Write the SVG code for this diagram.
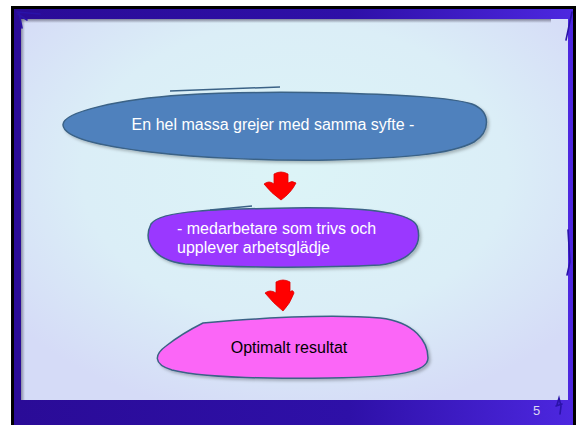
<svg xmlns="http://www.w3.org/2000/svg" width="579" height="425" viewBox="0 0 579 425">
  <defs>
    <radialGradient id="panel" cx="0.5" cy="0.4" r="0.65">
      <stop offset="0" stop-color="#dcf4f7"/>
      <stop offset="0.6" stop-color="#dbeef7"/>
      <stop offset="1" stop-color="#d5dbf7"/>
    </radialGradient>
    <linearGradient id="band" x1="0" y1="0" x2="1" y2="0">
      <stop offset="0" stop-color="#2a0b97"/>
      <stop offset="0.6" stop-color="#2e10a8"/>
      <stop offset="1" stop-color="#4d27e0"/>
    </linearGradient>
    <linearGradient id="shadowTop" x1="0" y1="0" x2="0" y2="1">
      <stop offset="0" stop-color="#6a6a80" stop-opacity="0.8"/>
      <stop offset="1" stop-color="#6a6a80" stop-opacity="0"/>
    </linearGradient>
    <linearGradient id="shadowLeft" x1="0" y1="0" x2="1" y2="0">
      <stop offset="0" stop-color="#6a6a80" stop-opacity="0.7"/>
      <stop offset="1" stop-color="#6a6a80" stop-opacity="0"/>
    </linearGradient>
    <filter id="sh" x="-10%" y="-10%" width="120%" height="140%">
      <feDropShadow dx="2" dy="2" stdDeviation="1.5" flood-color="#000" flood-opacity="0.25"/>
    </filter>
  </defs>
  <style>
    .blob { stroke: #3b6286; stroke-width: 1.5; filter: url(#sh); }
    .txt { font-family: "Liberation Sans", Arial, sans-serif; font-size: 16px; }
    .arrow { fill: #ff0000; stroke: #e00000; stroke-width: 0.8; stroke-linejoin: round; }
    .pen { fill: none; stroke: #2a12a8; stroke-width: 1.6; stroke-linecap: round; }
  </style>

  <!-- frame -->
  <rect x="0" y="0" width="579" height="425" fill="#ffffff"/>
  <rect x="11" y="6" width="565" height="419" fill="#000000"/>
  <rect x="14" y="9" width="559" height="416" fill="url(#band)"/>
  <rect x="21" y="19" width="547" height="381" fill="url(#panel)"/>
  <rect x="21" y="19" width="530" height="4" fill="url(#shadowTop)"/>
  <rect x="21" y="19" width="4" height="381" fill="url(#shadowLeft)"/>

  <!-- pen decorations -->
  <path class="pen" d="M17,12 L40,14 M19,13 L22,28 M18,14 L27,20"/>
  <path class="pen" d="M572,12 L566,40"/>
  <path class="pen" d="M568,230 L570,262 L567,275"/>
  <path class="pen" d="M557,405 L559,398 L561,406 L560,414 M556,406 L562,404"/>

  <!-- connectors -->
  <g id="connectors">
    <path class="arrow" d="M274,174 Q281,170 288,174 L288,183 Q292,180 296,183 Q291,193 281,200 Q271,193 264,184 Q269,180 274,184 Z"/>
    <path class="arrow" d="M276,282 Q283,278 290,282 L290,292 Q293,289 294,293 Q290,304 283,311 Q273,303 265,293 Q270,289 276,293 Z"/>
  </g>

  <!-- node 1 -->
  <g id="node1">
    <path class="blob" fill="#4f81bd" d="M63,125 C62,112 120,99 183,95 C230,92 290,92 340,93 C400,95 450,97 472,104 C492,112 490,132 474,142 C450,155 400,158 330,160 C270,161 200,158 150,152 C100,146 64,138 63,125 Z"/>
    <path d="M170,91 L280,87" stroke="#3b6286" stroke-width="1.5" fill="none"/>
    <text class="txt" x="273" y="130" text-anchor="middle" fill="#ffffff">En hel massa grejer med samma syfte -</text>
  </g>

  <!-- node 2 -->
  <g id="node2">
    <path class="blob" fill="#9a38ff" d="M151,224 C160,210 220,209 290,208 C360,207 410,211 417,226 C423,244 412,261 380,265 C320,268 230,268 185,264 C152,260 143,240 151,224 Z"/>
    <path d="M210,210 L252,206" stroke="#3b6286" stroke-width="1.3" fill="none"/>
    <text class="txt" x="177" y="234" fill="#ffffff" font-size="16.5">- medarbetare som trivs och</text>
    <text class="txt" x="177" y="253" fill="#ffffff" font-size="16.5">upplever arbetsglädje</text>
  </g>

  <!-- node 3 -->
  <g id="node3">
    <path class="blob" fill="#fb66f7" d="M203,323 C260,318 330,314 380,318 C415,322 428,342 428,358 C428,372 400,377 330,378 C260,379 200,377 172,370 C152,364 155,354 166,346 C180,335 195,327 203,323 Z"/>
    <text class="txt" x="289" y="353" text-anchor="middle" fill="#000000" font-size="17">Optimalt resultat</text>
  </g>

  <text x="533" y="415" font-family="'Liberation Sans', Arial, sans-serif" font-size="13" fill="#dcd8f2">5</text>
</svg>
